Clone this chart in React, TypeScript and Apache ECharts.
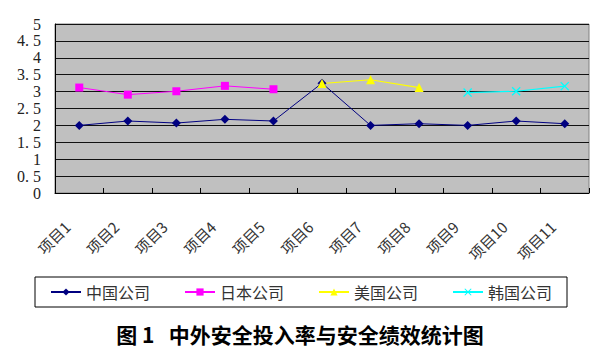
import React, { useEffect, useRef } from "react";
import * as echarts from "echarts";

const categories = ["项目1", "项目2", "项目3", "项目4", "项目5", "项目6", "项目7", "项目8", "项目9", "项目10", "项目11"];
const chinaValues = [2.0, 2.13, 2.07, 2.18, 2.13, 3.25, 2.0, 2.05, 2.0, 2.13, 2.05];
const japanValues = [3.12, 2.91, 3.01, 3.17, 3.07, null, null, null, null, null, null];
const usValues = [null, null, null, null, null, 3.24, 3.35, 3.12, null, null, null];
const koreaValues = [null, null, null, null, null, null, null, null, 2.97, 3.01, 3.16];
const seriesNames = ["中国公司", "日本公司", "美国公司", "韩国公司"];
const titleText = "图 1   中外安全投入率与安全绩效统计图";

const cjk = "'Noto Sans CJK SC', sans-serif";
const serif = "'Liberation Serif', 'DejaVu Serif', serif";

export default function App() {
  const ref = useRef<HTMLDivElement>(null);
  useEffect(() => {
    document.body.style.margin = "0";
    const chart = echarts.init(ref.current!, undefined, { renderer: "svg" });
    const xPath = "path://M0,1L1,0L5,4L9,0L10,1L6,5L10,9L9,10L5,6L1,10L0,9L4,5Z";
    chart.setOption({
      animation: false,
      backgroundColor: "#ffffff",
      title: {
        text: titleText,
        left: "center",
        top: 323,
        padding: 0,
        textStyle: { fontFamily: cjk, fontSize: 21, fontWeight: "bold", color: "#000" },
      },
      legend: {
        left: 35,
        top: 277,
        padding: [7, 15],
        borderColor: "#000",
        borderWidth: 1,
        itemWidth: 30,
        itemHeight: 9,
        itemGap: 34,
        textStyle: { fontFamily: cjk, fontSize: 16, color: "#333" },
        data: seriesNames,
      },
      grid: {
        left: 55,
        right: 11,
        top: 24,
        bottom: 162,
        show: true,
        backgroundColor: "#c0c0c0",
        borderColor: "#808080",
        borderWidth: 1,
      },
      xAxis: {
        type: "category",
        data: categories,
        boundaryGap: true,
        axisLine: { lineStyle: { color: "#000", width: 1 } },
        axisTick: { show: true, inside: true, length: 5, interval: 0, lineStyle: { color: "#000" } },
        axisLabel: {
          rotate: 45,
          interval: 0,
          margin: 19,
          padding: [0, 17, 0, 0],
          fontFamily: cjk,
          fontSize: 15,
          color: "#333",
        },
      },
      yAxis: {
        type: "value",
        min: 0,
        max: 5,
        interval: 0.5,
        axisLine: { show: true, lineStyle: { color: "#000", width: 1 } },
        axisTick: { show: false },
        splitLine: { lineStyle: { color: "#111", width: 1.2 } },
        axisLabel: {
          margin: 14,
          fontFamily: serif,
          fontSize: 16,
          color: "#222",
          formatter: (v: number) => String(v).replace(".", ". "),
        },
      },
      series: [
        {
          name: seriesNames[0],
          type: "line",
          data: chinaValues,
          color: "#000080",
          symbol: "diamond",
          symbolSize: 9,
          lineStyle: { width: 1, color: "#000080" },
          itemStyle: { color: "#000080" },
        },
        {
          name: seriesNames[1],
          type: "line",
          data: japanValues,
          color: "#ff00ff",
          symbol: "rect",
          symbolSize: 8,
          lineStyle: { width: 1, color: "#ff00ff" },
          itemStyle: { color: "#ff00ff" },
        },
        {
          name: seriesNames[2],
          type: "line",
          data: usValues,
          color: "#ffff00",
          symbol: "triangle",
          symbolSize: 9,
          lineStyle: { width: 1.2, color: "#ffff00" },
          itemStyle: { color: "#ffff00" },
        },
        {
          name: seriesNames[3],
          type: "line",
          data: koreaValues,
          color: "#00ffff",
          symbol: xPath,
          symbolSize: 9,
          lineStyle: { width: 1.2, color: "#00ffff" },
          itemStyle: { color: "#00ffff" },
        },
      ],
    });
    return () => chart.dispose();
  }, []);
  return <div ref={ref} style={{ width: 600, height: 355 }} />;
}
